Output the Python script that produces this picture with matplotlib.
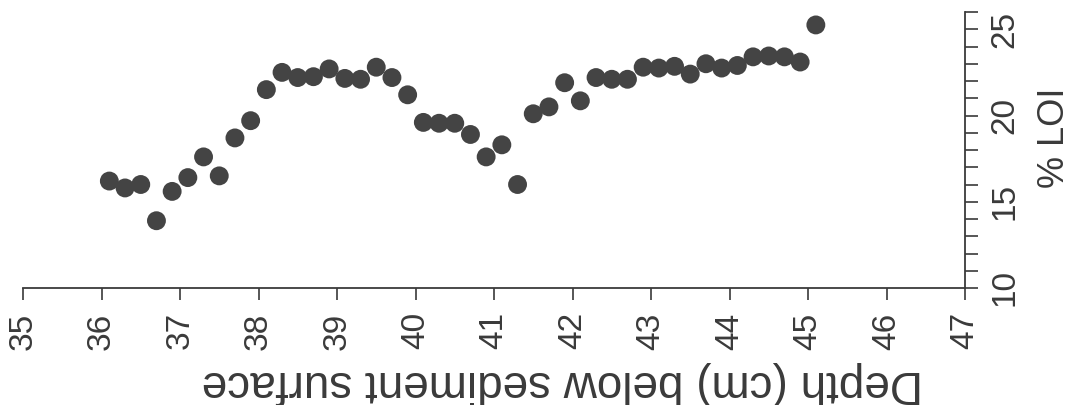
import matplotlib
matplotlib.use("Agg")
import matplotlib.pyplot as plt
from matplotlib.ticker import MultipleLocator, FixedLocator

depth_cm = [36.1, 36.3, 36.5, 36.7, 36.9, 37.1, 37.3, 37.5, 37.7, 37.9,
            38.1, 38.3, 38.5, 38.7, 38.9, 39.1, 39.3, 39.5, 39.7, 39.9,
            40.1, 40.3, 40.5, 40.7, 40.9, 41.1, 41.3, 41.5, 41.7, 41.9,
            42.1, 42.3, 42.5, 42.7, 42.9, 43.1, 43.3, 43.5, 43.7, 43.9,
            44.1, 44.3, 44.5, 44.7, 44.9, 45.1]
loi_pct = [16.2, 15.8, 16.0, 13.9, 15.6, 16.4, 17.6, 16.5, 18.7, 19.7,
           21.5, 22.5, 22.2, 22.25, 22.7, 22.15, 22.1, 22.8, 22.2, 21.2,
           19.6, 19.55, 19.55, 18.9, 17.6, 18.3, 16.0, 20.1, 20.5, 21.9,
           20.85, 22.2, 22.1, 22.1, 22.8, 22.75, 22.85, 22.4, 23.0, 22.75,
           22.9, 23.4, 23.45, 23.4, 23.1, 25.25]

x_ticks = list(range(35, 48))
y_ticks = [10, 15, 20, 25]
x_label = "Depth (cm) below sediment surface"
y_label = "% LOI"

W, H = 1082, 405
fig = plt.figure(figsize=(W / 100, H / 100), dpi=100)
ax = fig.add_axes([23 / W, 1 - 288 / H, (965 - 23) / W, (288 - 12) / H])

ink = "#3a3a3a"
ax.scatter(depth_cm, loi_pct, s=185, color="#444444", edgecolors="none", zorder=3)

ax.set_xlim(35, 47)
ax.set_ylim(10, 26)

for s in ["top", "left"]:
    ax.spines[s].set_visible(False)
for s in ["bottom", "right"]:
    ax.spines[s].set_color(ink)
    ax.spines[s].set_linewidth(1.3)

ax.xaxis.set_major_locator(FixedLocator(x_ticks))
ax.set_xticklabels([str(t) for t in x_ticks], rotation=90)
ax.yaxis.tick_right()
ax.yaxis.set_major_locator(FixedLocator(y_ticks))
ax.yaxis.set_minor_locator(MultipleLocator(1))
ax.set_yticklabels([str(t) for t in y_ticks])

fam = ["Liberation Sans", "DejaVu Sans"]
ax.tick_params(axis="x", direction="out", length=8.5, width=1.2, color=ink,
               labelsize=24, pad=9, labelcolor=ink)
ax.tick_params(axis="y", which="both", direction="out", length=9.5, width=1.2,
               color=ink, labelsize=24, pad=8, labelcolor=ink, labelrotation=90,
               right=True, left=False)
for lab in ax.get_xticklabels() + ax.get_yticklabels():
    lab.set_family(fam)
for lab in ax.get_yticklabels():
    lab.set_verticalalignment("center")

fig.text(562 / W, 1 - 383 / H, x_label, rotation=180, ha="center", va="center",
         fontsize=33, family=fam, color=ink)
fig.text(1055 / W, 1 - 138 / H, y_label, rotation=90, ha="center", va="center",
         fontsize=26, family=fam, color=ink)

fig.savefig("out.png", dpi=100, facecolor="white")
